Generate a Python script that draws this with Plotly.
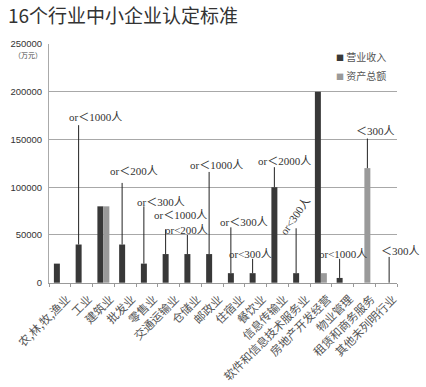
import plotly.graph_objects as go

categories = ["农,林,牧,渔业", "工业", "建筑业", "批发业", "零售业", "交通运输业", "仓储业", "邮政业",
              "住宿业", "餐饮业", "信息传输业", "软件和信息技术服务业", "房地产开发经营", "物业管理",
              "租赁和商务服务", "其他未列明行业"]
revenue = [20000, 40000, 80000, 40000, 20000, 30000, 30000, 30000,
           10000, 10000, 100000, 10000, 200000, 5000, 0, 0]
assets = [0, 0, 80000, 0, 0, 0, 0, 0, 0, 0, 0, 0, 10000, 0, 120000, 0]
label_text = ["", "or＜1000人", "", "or＜200人", "or＜300人", "or＜1000人", "or<200人", "or＜1000人",
              "or＜300人", "or<300人", "or＜2000人", "or<300人", "", "or<1000人", "＜300人", "＜300人"]
line_top = [None, 165000, None, 104500, 80000, 56000, 50000, 116000,
            58000, 25000, 121000, 57000, None, 25000, 151000, 27000]
label_y = [None, 173900, None, 117000, 84900, 71400, 54900, 123200,
           63100, 30000, 127300, 69400, None, 30000, 159400, 33100]
y_ticks = [0, 50000, 100000, 150000, 200000, 250000]
series_names = ["营业收入", "资产总额"]

# styling (label attached to assets bar for these categories)
on_assets = {14, 15}
label_dx = [0, 17, 0, 12, 17, 15, -1, 7, 13, -2, 10, -1, 0, 3, 8, 11]
label_angle = [0] * 16
label_angle[11] = -55
colors = ["#383838", "#9a9a9a"]

x = list(range(len(categories)))
OFF = 0.138

fig = go.Figure()
fig.add_bar(x=x, y=revenue, name=series_names[0], showlegend=False,
            marker=dict(color=colors[0], line=dict(width=0)))
fig.add_bar(x=x, y=assets, name=series_names[1], showlegend=False,
            marker=dict(color=colors[1], line=dict(width=0)))
for nm, c in zip(series_names, colors):
    fig.add_scatter(x=[None], y=[None], mode="markers",
                    name=f"<span style='font-size:8px;color:{c}'>■</span> {nm}",
                    marker=dict(symbol="square", size=1, color="rgba(0,0,0,0)"))

shapes = []
annotations = []
for i in x:
    if not label_text[i]:
        continue
    xi = i + (OFF if i in on_assets else -OFF)
    base = assets[i] if i in on_assets else revenue[i]
    shapes.append(dict(type="line", xref="x", yref="y", x0=xi, x1=xi, y0=base, y1=line_top[i],
                       line=dict(color="#222", width=1)))
    annotations.append(dict(x=xi, y=label_y[i], xref="x", yref="y", text=label_text[i],
                            showarrow=False, xshift=label_dx[i], textangle=label_angle[i],
                            font=dict(family="Liberation Serif, Noto Sans CJK SC", size=11, color="#333")))

annotations.append(dict(x=-21 / 348, y=(283 - 55) / 239, xref="paper", yref="paper", text="（万元）",
                        showarrow=False, xanchor="center", yanchor="middle",
                        font=dict(size=7, color="#444", family="Noto Sans CJK SC")))

fig.update_layout(
    width=426, height=387,
    margin=dict(l=49, r=29, t=44, b=104, autoexpand=False),
    paper_bgcolor="white", plot_bgcolor="white",
    title=dict(text="16个行业中小企业认定标准", x=8 / 426, xanchor="left", xref="container",
               y=1 - 16 / 387, yanchor="middle", yref="container",
               font=dict(family="Noto Sans CJK SC", size=19, color="#333")),
    barmode="group", bargap=0.45, bargroupgap=0,
    showlegend=True,
    legend=dict(x=(296 - 49) / 348, y=(283 - 43) / 239, xanchor="left", yanchor="top",
                bgcolor="rgba(255,255,255,0)",
                font=dict(family="Noto Sans CJK SC", size=10, color="#555"),
                itemwidth=30, tracegroupgap=0),
    xaxis=dict(tickmode="array", tickvals=x, ticktext=categories, tickangle=-45, automargin=False,
               range=[-0.5, 15.5], showgrid=False, showline=True, linecolor="#999", linewidth=1,
               ticks="", ticklabelshift=7, ticklabelstandoff=4,
               tickfont=dict(family="Noto Sans CJK SC", size=11.5, color="#555"),
               zeroline=False,
               minor=dict(tickmode="linear", tick0=0.5, dtick=1, ticks="outside", ticklen=3,
                          tickcolor="#999")),
    yaxis=dict(tickvals=y_ticks, range=[-300, 250000], showgrid=True, gridcolor="#a8a8a8", gridwidth=1,
               showline=True, linecolor="#aaa", linewidth=1, ticks="", automargin=False,
               ticklabelstandoff=4,
               tickfont=dict(family="Liberation Sans", size=9.5, color="#333"), zeroline=False,
               tickformat="d"),
    shapes=shapes,
    annotations=annotations,
)

fig.write_html("out.html", post_script="document.body.style.margin='0';",
               config={"displayModeBar": False})
